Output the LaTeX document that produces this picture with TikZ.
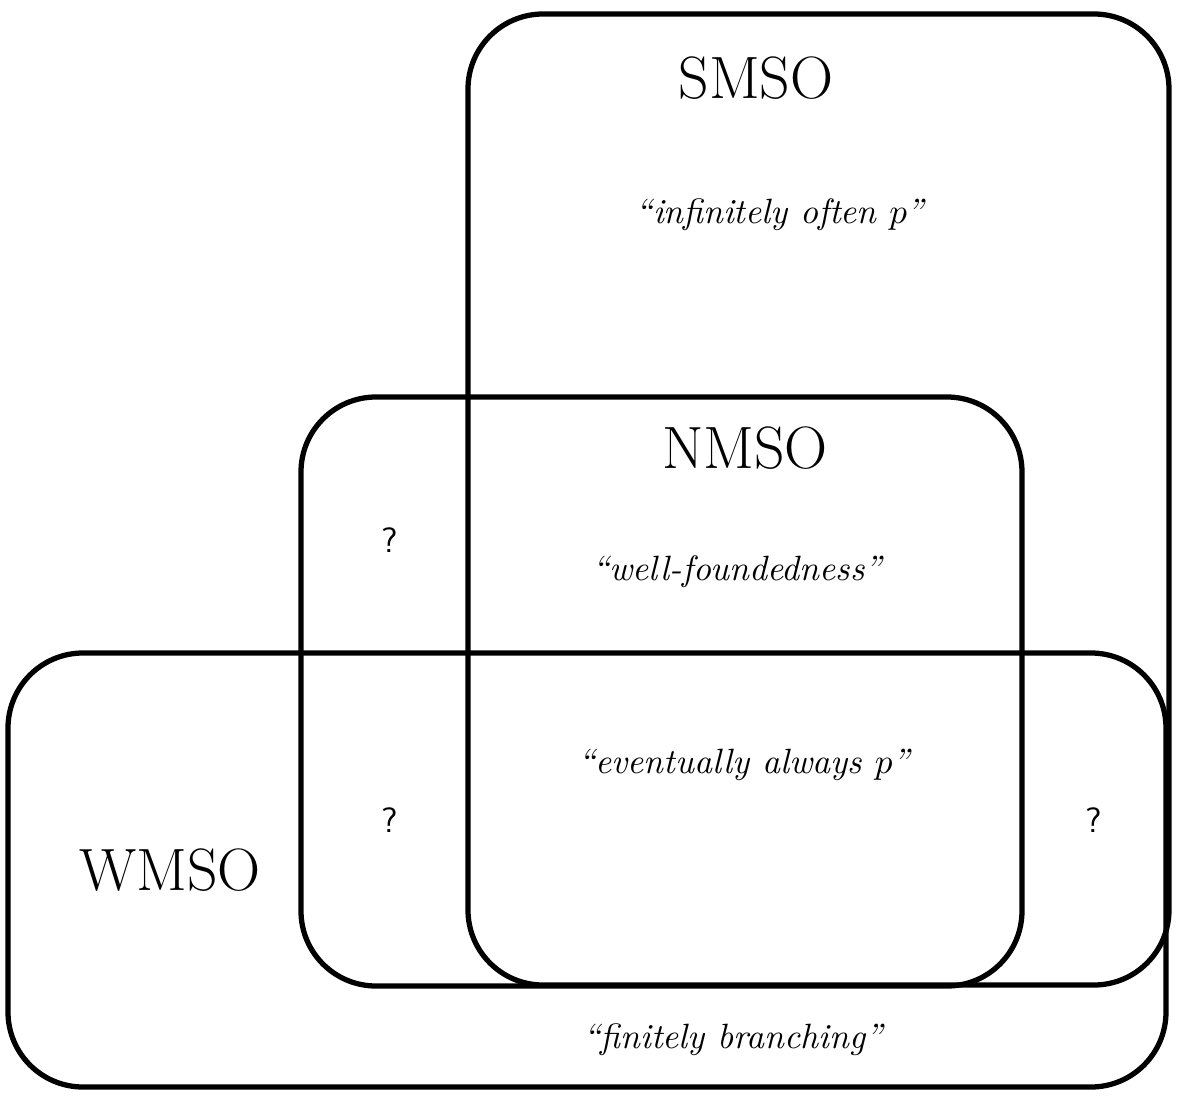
\documentclass[tikz,border=0pt]{standalone}
\usepackage{tikz}
\usetikzlibrary{positioning}
\tikzset{region/.style={draw,line width=1.5pt,rounded corners=0.75cm}}
\tikzset{logic/.style={font=\fontsize{17}{20}\selectfont}}
\tikzset{example/.style={font=\itshape}}

\begin{document}
\begin{tikzpicture}
      \useasboundingbox (0,0) rectangle (11.82,-11.02);
      % the three classes
      \draw[region] (4.68,-0.14) rectangle (11.69,-9.85);
      \draw[region] (3.01,-3.97) rectangle (10.22,-9.86);
      \draw[region] (0.08,-6.53) rectangle (11.66,-10.87);

      \node[logic](smso) at (7.56,-0.78){SMSO};
      \node[example](inf) at (7.80,-2.15){``infinitely often $p$''};
      \node[logic](nmso) at (7.45,-4.48){NMSO};
      \node[example](wf) at (7.37,-5.72){``well-foundedness''};
      \node[example](ev) at (7.44,-7.65){``eventually always $p$''};
      \node[logic](wmso) at (1.70,-8.70){WMSO};
      \node[example](fb) at (7.33,-10.40){``finitely branching''};

      \node(q1) at (3.90,-5.40){\sffamily ?};
      \node(q2) at (3.90,-8.20){\sffamily ?};
      \node(q3) at (10.94,-8.20){\sffamily ?};
    \end{tikzpicture}
\end{document}
